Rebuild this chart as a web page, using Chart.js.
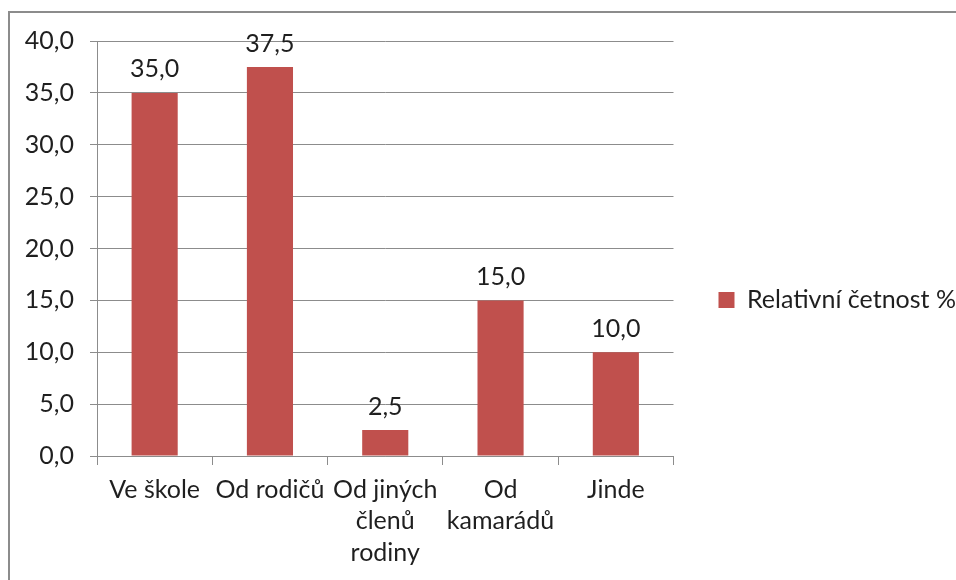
<!DOCTYPE html>
<html>
<head>
  <meta charset="utf-8" />
  <title>Relativní četnost</title>
  <script src="https://cdn.jsdelivr.net/npm/chart.js"></script>
  <style>
    body, html { margin: 0; padding: 0; background-color: #ffffff; overflow: hidden; }
    #frame { position: absolute; left: 8px; top: 11px; border: 2px solid #8c8c8c; width: 1000px; height: 580px; }
  </style>
</head>
<body>
  <div id="frame"><canvas id="myChart" width="1000" height="574"></canvas></div>
  <script>
    const categories = [
      ["Ve škole"],
      ["Od rodičů"],
      ["Od jiných", "členů", "rodiny"],
      ["Od", "kamarádů"],
      ["Jinde"]
    ];
    const seriesName = "Relativní četnost %";
    const values = [35.0, 37.5, 2.5, 15.0, 10.0];
    const yMin = 0;
    const yMax = 40;
    const yStep = 5;

    const fontFamily = "Lato, 'Noto Sans', sans-serif";
    const textColor = '#1f1f1f';
    const gridColor = '#8c8c8c';

    function fmt(v) {
      return v.toFixed(1).replace('.', ',');
    }

    // value labels above the bars
    const barLabels = {
      id: 'barLabels',
      afterDatasetsDraw(chart) {
        const ctx = chart.ctx;
        const meta = chart.getDatasetMeta(0);
        ctx.save();
        ctx.fillStyle = textColor;
        ctx.font = '25px ' + fontFamily;
        ctx.textAlign = 'center';
        ctx.textBaseline = 'bottom';
        meta.data.forEach((bar, i) => {
          ctx.fillText(fmt(values[i]), bar.x, bar.y - 11);
        });
        ctx.restore();
      }
    };

    const ctx = document.getElementById('myChart').getContext('2d');
    new Chart(ctx, {
      type: 'bar',
      data: {
        labels: categories,
        datasets: [{
          label: seriesName,
          data: values,
          backgroundColor: '#C0504D',
          borderWidth: 0,
          categoryPercentage: 1.0,
          barPercentage: 0.4
        }]
      },
      options: {
        responsive: false,
        animation: false,
        devicePixelRatio: 1,
        layout: {
          padding: { top: 0, right: 44, bottom: 0, left: 0 }
        },
        scales: {
          x: {
            grid: {
              display: true,
              drawOnChartArea: false,
              drawTicks: true,
              tickLength: 9,
              color: gridColor,
              offset: true
            },
            border: { display: true, color: gridColor, width: 1 },
            ticks: {
              color: textColor,
              padding: 9,
              maxRotation: 0,
              autoSkip: false,
              font: { family: fontFamily, size: 25, lineHeight: 1.26 }
            },
            afterFit(scale) { scale.height = 131; }
          },
          y: {
            min: yMin,
            max: yMax,
            grid: {
              color: gridColor,
              tickLength: 7,
              drawTicks: true
            },
            border: { display: true, color: gridColor, width: 1 },
            ticks: {
              stepSize: yStep,
              color: textColor,
              padding: 16,
              font: { family: fontFamily, size: 25 },
              callback: function(value) { return fmt(value); }
            },
            afterFit(scale) {
              scale.width = 87;
              scale.paddingTop = 28;
            }
          }
        },
        plugins: {
          tooltip: { enabled: false },
          legend: {
            display: true,
            position: 'right',
            maxWidth: 600,
            labels: {
              color: textColor,
              boxWidth: 16,
              boxHeight: 16,
              padding: 45,
              font: { family: fontFamily, size: 25 }
            }
          }
        }
      },
      plugins: [barLabels]
    });
  </script>
</body>
</html>
